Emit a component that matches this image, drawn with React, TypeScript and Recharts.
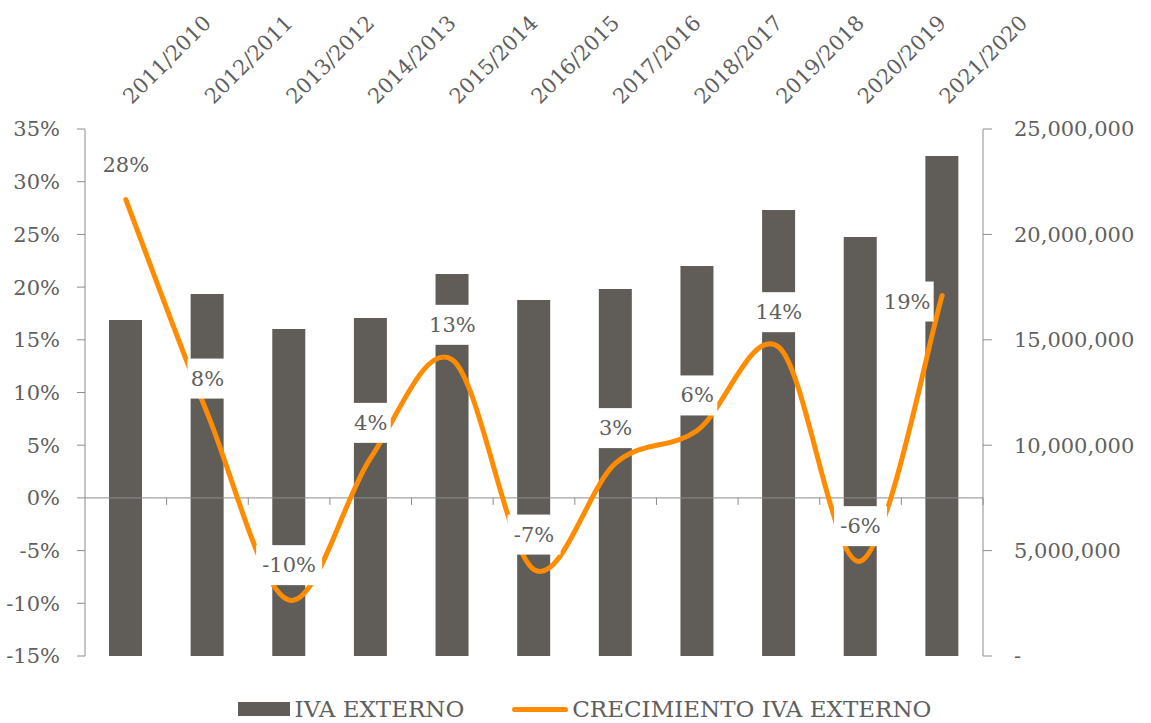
import React from 'react';
import {
  ComposedChart,
  Bar,
  Line,
  XAxis,
  YAxis,
  ReferenceLine,
  Legend,
  LabelList,
} from 'recharts';

const categories = [
  '2011/2010',
  '2012/2011',
  '2013/2012',
  '2014/2013',
  '2015/2014',
  '2016/2015',
  '2017/2016',
  '2018/2017',
  '2019/2018',
  '2020/2019',
  '2021/2020',
];

// IVA externo (right axis)
const ivaExterno = [
  15940000, 17170000, 15510000, 16030000, 18120000, 16890000, 17410000,
  18500000, 21160000, 19880000, 23720000,
];

// Crecimiento IVA externo, % (left axis)
const crecimiento = [28.3, 8.0, -9.7, 3.8, 13.1, -6.8, 3.3, 6.4, 14.3, -6.0, 19.2];

const leftTicks = [-15, -10, -5, 0, 5, 10, 15, 20, 25, 30, 35];
const rightTicks = [0, 5000000, 10000000, 15000000, 20000000, 25000000];

const data = categories.map((periodo, i) => ({
  periodo,
  iva: ivaExterno[i],
  crec: crecimiento[i],
}));

const TEXT = '#5f5f5f';
const AXIS = '#8c8c8c';
const BAR = '#605c58';
const ORANGE = '#ff8c00';
const FONT = '"DejaVu Serif", serif';

// Excel-style smoothed line (Catmull-Rom through the points)
const smoothCurve = (context: any) => {
  let pts: number[][] = [];
  return {
    areaStart() {},
    areaEnd() {},
    lineStart() {
      pts = [];
    },
    point(x: number, y: number) {
      pts.push([+x, +y]);
    },
    lineEnd() {
      if (!pts.length) return;
      context.moveTo(pts[0][0], pts[0][1]);
      for (let i = 0; i < pts.length - 1; i++) {
        const p0 = pts[i - 1] || pts[i];
        const p1 = pts[i];
        const p2 = pts[i + 1];
        const p3 = pts[i + 2] || p2;
        context.bezierCurveTo(
          p1[0] + (p2[0] - p0[0]) / 6,
          p1[1] + (p2[1] - p0[1]) / 6,
          p2[0] - (p3[0] - p1[0]) / 6,
          p2[1] - (p3[1] - p1[1]) / 6,
          p2[0],
          p2[1]
        );
      }
    },
  };
};

const TopTick = ({ x, y, payload }: any) => {
  const tx = x + 6;
  const ty = y - 24;
  return (
    <text
      x={tx}
      y={ty}
      transform={`rotate(-45 ${tx} ${ty})`}
      fill={TEXT}
      fontSize={21}
      fontFamily={FONT}
      textAnchor="start"
    >
      {payload.value}
    </text>
  );
};

const ZeroAxis = ({ x1, x2, y1 }: any) => {
  const n = categories.length;
  const step = (x2 - x1) / n;
  return (
    <g>
      <line x1={x1} y1={y1} x2={x2} y2={y1} stroke={AXIS} strokeWidth={1} />
      {categories.map((c, i) => (
        <line
          key={c}
          x1={x1 + (i + 1) * step}
          x2={x1 + (i + 1) * step}
          y1={y1}
          y2={y1 + 7}
          stroke={AXIS}
          strokeWidth={1}
        />
      ))}
    </g>
  );
};

const renderLabel = (props: any) => {
  const { x, y, value, index } = props;
  if (value == null) return null;
  const text = `${Math.round(value)}%`;
  const w = text.length * 13 + 14;
  const h = 40;
  const last = index === crecimiento.length - 1;
  const cx = last ? x - 35 : x;
  const cy = last ? y + 6 : y - 35;
  return (
    <g>
      <rect x={cx - w / 2} y={cy - h / 2} width={w} height={h} fill="#ffffff" />
      <text
        x={cx}
        y={cy}
        textAnchor="middle"
        dominantBaseline="central"
        fill={TEXT}
        fontSize={21}
        fontFamily={FONT}
      >
        {text}
      </text>
    </g>
  );
};

const LegendContent = () => (
  <div
    style={{
      height: 66,
      display: 'flex',
      alignItems: 'flex-end',
      justifyContent: 'center',
      fontFamily: FONT,
      fontSize: 23,
      color: TEXT,
      paddingLeft: 18,
    }}
  >
    <div style={{ display: 'flex', alignItems: 'center', marginRight: 48 }}>
      <span style={{ width: 52, height: 14, background: BAR, marginRight: 5 }} />
      <span>IVA EXTERNO</span>
    </div>
    <div style={{ display: 'flex', alignItems: 'center' }}>
      <span
        style={{ width: 56, height: 5, borderRadius: 3, background: ORANGE, marginRight: 4 }}
      />
      <span>CRECIMIENTO IVA EXTERNO</span>
    </div>
  </div>
);

export default function App() {
  return (
    <div style={{ position: 'absolute', left: 0, top: 0, width: 1151, height: 723, background: '#fff' }}>
      <ComposedChart
        width={1151}
        height={723}
        data={data}
        margin={{ top: 0, right: 0, bottom: 1, left: 0 }}
        style={{ fontFamily: FONT }}
      >
        <XAxis
          dataKey="periodo"
          orientation="top"
          height={129}
          axisLine={false}
          tickLine={false}
          tickSize={0}
          tickMargin={0}
          interval={0}
          tick={<TopTick />}
        />
        <YAxis
          yAxisId="left"
          orientation="left"
          width={85}
          domain={[-15, 35]}
          ticks={leftTicks}
          interval={0}
          tickFormatter={(v) => `${v}%`}
          axisLine={{ stroke: AXIS }}
          tickLine={{ stroke: AXIS }}
          tickSize={8}
          tickMargin={17}
          tick={{ fill: TEXT, fontSize: 21 }}
        />
        <YAxis
          yAxisId="right"
          orientation="right"
          width={168}
          domain={[0, 25000000]}
          ticks={rightTicks}
          interval={0}
          tickFormatter={(v) => (v === 0 ? '-' : Number(v).toLocaleString('en-US'))}
          axisLine={{ stroke: AXIS }}
          tickLine={{ stroke: AXIS }}
          tickSize={9}
          tickMargin={22}
          tick={{ fill: TEXT, fontSize: 21 }}
        />
        <Legend verticalAlign="bottom" content={<LegendContent />} />
        <Bar
          yAxisId="right"
          dataKey="iva"
          name="IVA EXTERNO"
          fill={BAR}
          barSize={33}
          isAnimationActive={false}
        />
        <ReferenceLine y={0} yAxisId="left" shape={<ZeroAxis />} />
        <Line
          yAxisId="left"
          dataKey="crec"
          name="CRECIMIENTO IVA EXTERNO"
          type={smoothCurve as any}
          stroke={ORANGE}
          strokeWidth={5}
          strokeLinecap="round"
          dot={false}
          activeDot={false}
          isAnimationActive={false}
        >
          <LabelList dataKey="crec" content={renderLabel} />
        </Line>
      </ComposedChart>
    </div>
  );
}
